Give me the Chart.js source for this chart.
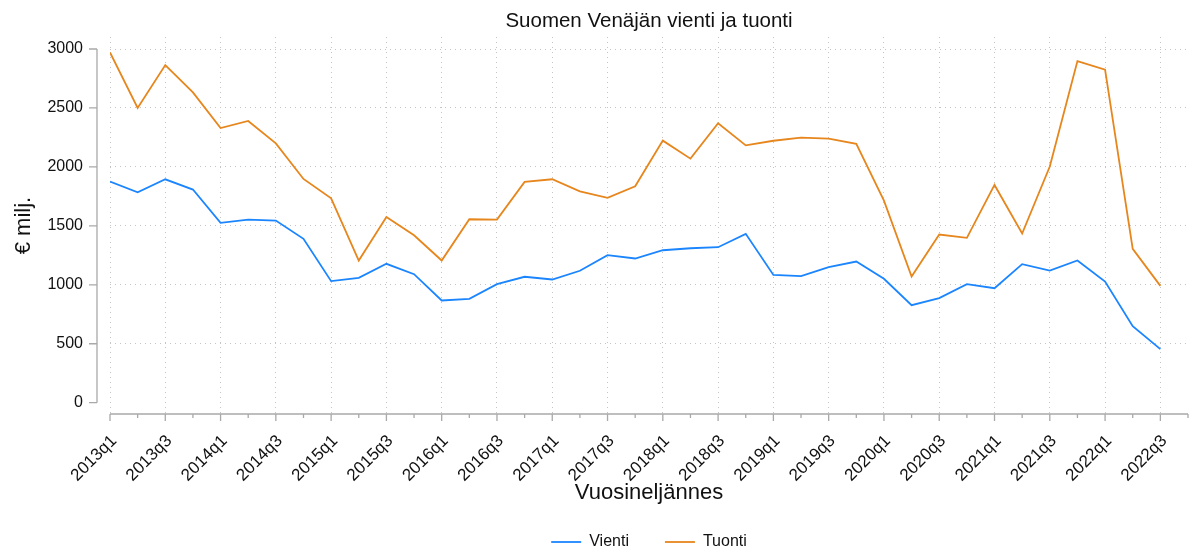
<!DOCTYPE html>
<html>
<head>
<meta charset="utf-8">
<script src="https://cdn.jsdelivr.net/npm/chart.js@4/dist/chart.umd.min.js"></script>
<style>
  html, body { margin: 0; padding: 0; background: #ffffff; }
  #wrap { width: 1195px; height: 554px; }
</style>
</head>
<body>
<div id="wrap"><canvas id="c" width="1195" height="554"></canvas></div>
<script>
const quarters = ['2013q1','2013q2','2013q3','2013q4','2014q1','2014q2','2014q3','2014q4',
  '2015q1','2015q2','2015q3','2015q4','2016q1','2016q2','2016q3','2016q4',
  '2017q1','2017q2','2017q3','2017q4','2018q1','2018q2','2018q3','2018q4',
  '2019q1','2019q2','2019q3','2019q4','2020q1','2020q2','2020q3','2020q4',
  '2021q1','2021q2','2021q3','2021q4','2022q1','2022q2','2022q3'];
const vienti = [1875, 1785, 1895, 1808, 1525, 1553, 1545, 1390,
  1031, 1059, 1178, 1090, 867, 881, 1005, 1068,
  1045, 1119, 1251, 1223, 1293, 1310, 1319, 1432,
  1084, 1073, 1149, 1197, 1051, 827, 887, 1005,
  971, 1175, 1121, 1206, 1028, 649, 454];
const tuonti = [2971, 2500, 2864, 2632, 2330, 2390, 2200, 1898,
  1734, 1206, 1576, 1420, 1206, 1556, 1553, 1873,
  1895, 1793, 1737, 1836, 2223, 2070, 2370, 2183,
  2222, 2248, 2240, 2195, 1714, 1070, 1426, 1398,
  1847, 1435, 2003, 2898, 2825, 1305, 991];
const yTickValues = [0, 500, 1000, 1500, 2000, 2500, 3000];
const seriesNames = ['Vienti', 'Tuonti'];
const titleText = 'Suomen Venäjän vienti ja tuonti';
const xTitle = 'Vuosineljännes';
const yTitle = '€ milj.';

const FONT = "'Liberation Sans', Arial, Helvetica, sans-serif";
const AXIS_COLOR = '#a9a9a9';
const GRID_COLOR = '#c4c4c4';

const xTickValues = [];
for (let i = 0; i <= quarters.length; i++) xTickValues.push(i);

const toPoints = arr => arr.map((v, i) => ({ x: i, y: v }));

const stataAxes = {
  id: 'stataAxes',
  beforeDatasetsDraw(chart) {
    const { ctx, chartArea, scales: { x, y } } = chart;
    ctx.save();
    ctx.strokeStyle = AXIS_COLOR;
    ctx.lineWidth = 1.3;
    ctx.lineCap = 'butt';
    // y axis
    const ax = chartArea.left - 13;
    ctx.beginPath();
    ctx.moveTo(ax, y.getPixelForValue(yTickValues[0]));
    ctx.lineTo(ax, y.getPixelForValue(yTickValues[yTickValues.length - 1]));
    yTickValues.forEach(v => {
      const py = y.getPixelForValue(v);
      ctx.moveTo(ax - 8, py);
      ctx.lineTo(ax, py);
    });
    ctx.stroke();
    // x axis
    const ay = chartArea.bottom;
    ctx.beginPath();
    ctx.moveTo(x.getPixelForValue(xTickValues[0]), ay);
    ctx.lineTo(x.getPixelForValue(xTickValues[xTickValues.length - 1]), ay);
    xTickValues.forEach(v => {
      const px = x.getPixelForValue(v);
      const len = (v % 2 === 0 && v < quarters.length) ? 7 : 4;
      ctx.moveTo(px, ay);
      ctx.lineTo(px, ay + len);
    });
    ctx.stroke();
    ctx.restore();
  }
};

new Chart(document.getElementById('c'), {
  type: 'line',
  data: {
    datasets: [
      { label: seriesNames[0], data: toPoints(vienti), borderColor: '#1a85ff', backgroundColor: '#1a85ff',
        borderWidth: 1.8, pointRadius: 0, tension: 0, fill: false },
      { label: seriesNames[1], data: toPoints(tuonti), borderColor: '#e6861c', backgroundColor: '#e6861c',
        borderWidth: 1.8, pointRadius: 0, tension: 0, fill: false }
    ]
  },
  options: {
    responsive: false,
    animation: false,
    devicePixelRatio: 1,
    layout: { padding: { left: 0, right: 7, top: 0, bottom: -6 } },
    plugins: {
      tooltip: { enabled: false },
      title: {
        display: true, text: titleText, fullSize: false,
        color: '#111111',
        font: { family: FONT, size: 20.5, weight: 'normal' },
        padding: { top: 9.5, bottom: 2.9 }
      },
      legend: {
        display: true, position: 'bottom', fullSize: false,
        labels: {
          color: '#111111',
          font: { family: FONT, size: 16 },
          usePointStyle: true, pointStyle: 'line', pointStyleWidth: 30,
          boxHeight: 16,
          padding: 36
        }
      }
    },
    scales: {
      x: {
        type: 'linear', min: 0, max: quarters.length,
        afterBuildTicks: s => { s.ticks = xTickValues.map(v => ({ value: v })); },
        afterFit: s => { s.height = 84; s.paddingRight = 0; s.paddingLeft = 0; },
        ticks: {
          autoSkip: false, maxRotation: 45, minRotation: 45,
          color: '#111111', font: { family: FONT, size: 17 }, padding: 17, labelOffset: 4,
          callback: v => (v % 2 === 0 && v < quarters.length) ? quarters[v] : ''
        },
        grid: {
          drawTicks: false,
          color: c => (c.tick && c.tick.value % 2 === 0 && c.tick.value < quarters.length) ? GRID_COLOR : 'rgba(0,0,0,0)',
          lineWidth: 1
        },
        border: { display: false, dash: [1, 4] },
        title: { display: true, text: xTitle, color: '#111111', font: { family: FONT, size: 22, lineHeight: 0.8 }, padding: { top: 0, bottom: -4 } }
      },
      y: {
        type: 'linear', min: -96, max: 3102,
        afterBuildTicks: s => { s.ticks = yTickValues.map(v => ({ value: v })); },
        afterFit: s => { s.width = 110; },
        ticks: { color: '#111111', font: { family: FONT, size: 16 }, padding: 27, callback: v => String(v) },
        grid: {
          drawTicks: false,
          color: c => (c.tick && c.tick.value > 0) ? GRID_COLOR : 'rgba(0,0,0,0)',
          lineWidth: 1
        },
        border: { display: false, dash: [1, 4] },
        title: { display: true, text: yTitle, color: '#111111', font: { family: FONT, size: 22 }, padding: { top: 11, bottom: 0 } }
      }
    }
  },
  plugins: [stataAxes]
});
</script>
</body>
</html>
